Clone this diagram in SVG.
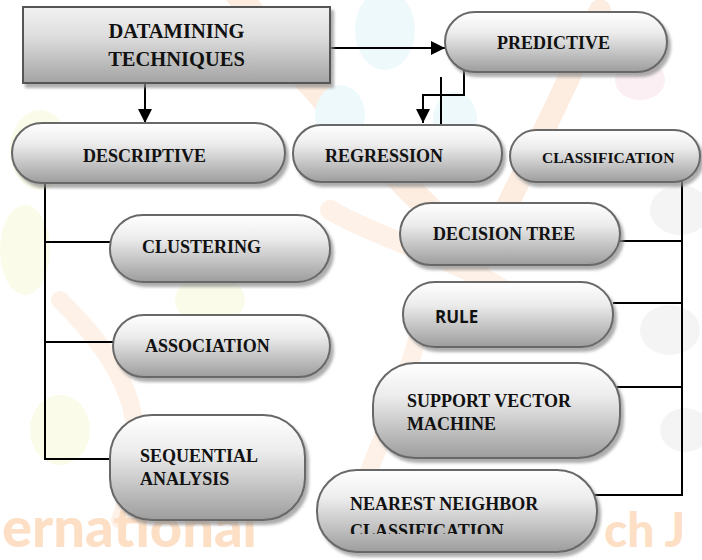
<svg xmlns="http://www.w3.org/2000/svg" width="702" height="560" viewBox="0 0 702 560">
<defs>
<linearGradient id="pill" x1="0" y1="0" x2="0" y2="1">
<stop offset="0" stop-color="#ffffff"/>
<stop offset="0.35" stop-color="#ececec"/>
<stop offset="1" stop-color="#9d9d9d"/>
</linearGradient>
<linearGradient id="boxg" x1="0" y1="0" x2="0" y2="1">
<stop offset="0" stop-color="#f2f2f2"/>
<stop offset="0.4" stop-color="#dcdcdc"/>
<stop offset="1" stop-color="#a3a3a3"/>
</linearGradient>
<filter id="sh" x="-10%" y="-20%" width="125%" height="150%">
<feDropShadow dx="3" dy="4" stdDeviation="1.5" flood-color="#8a8a8a" flood-opacity="0.7"/>
</filter>
<marker id="ah" viewBox="0 0 10 10" refX="10" refY="5" markerWidth="15" markerHeight="14" markerUnits="userSpaceOnUse" orient="auto">
<path d="M0,0 L10,5 L0,10 z" fill="#000"/>
</marker>
<clipPath id="nnclip"><rect x="300" y="460" width="320" height="74"/></clipPath>
<style>
.pill{fill:url(#pill);stroke:#686868;stroke-width:2;filter:url(#sh)}
.box{fill:url(#boxg);stroke:#555;stroke-width:2;filter:url(#sh)}
.t{font-family:"Liberation Serif","Times New Roman",serif;font-weight:bold;font-size:18px;fill:#111}
.big{font-size:20.5px}
.small{font-size:15.5px}
.ts{font-family:"Open Sans","Liberation Sans",sans-serif;font-weight:bold;font-size:17px;fill:#111}
.c{fill:none;stroke:#000;stroke-width:2}
.wm{fill:none;stroke-linecap:round}
.wmt{font-family:Lato,"Open Sans",sans-serif;font-weight:900;font-size:56px;fill:#fddfc5}
</style>
</defs>
<g id="watermark">
<path class="wm" d="M235,-10 C300,80 380,160 470,250" stroke="#fdece0" stroke-width="26"/>
<path class="wm" d="M600,10 C560,100 520,180 480,260" stroke="#fdece0" stroke-width="22"/>
<path class="wm" d="M330,210 C400,250 480,260 560,330" stroke="#fef1e7" stroke-width="20"/>
<path class="wm" d="M60,300 C120,360 160,420 120,520" stroke="#fef1e7" stroke-width="18"/>
<path class="wm" d="M420,330 C400,400 380,440 350,520" stroke="#fef1e7" stroke-width="18"/>
<ellipse cx="385" cy="30" rx="30" ry="40" fill="#edf9fb"/>
<ellipse cx="340" cy="115" rx="25" ry="30" fill="#edf9fb"/>
<ellipse cx="455" cy="120" rx="22" ry="28" fill="#edf9fb"/>
<ellipse cx="40" cy="150" rx="30" ry="40" fill="#fbfbea"/>
<ellipse cx="25" cy="250" rx="25" ry="45" fill="#fbfbea"/>
<ellipse cx="210" cy="300" rx="35" ry="25" fill="#fbfbea"/>
<ellipse cx="60" cy="430" rx="30" ry="35" fill="#fbfbea"/>
<ellipse cx="640" cy="80" rx="25" ry="20" fill="#fbeff3"/>
<ellipse cx="680" cy="210" rx="30" ry="25" fill="#f4f4f4"/>
<ellipse cx="670" cy="330" rx="30" ry="25" fill="#f4f4f4"/>
<ellipse cx="685" cy="430" rx="25" ry="22" fill="#f4f4f4"/>
<text class="wmt" x="2" y="547">ernational</text>
<text class="wmt" x="604" y="547" style="font-size:48px">ch J</text>
</g>
<g id="connectors">
<path class="c" d="M145,83 L145,123" marker-end="url(#ah)"/>
<path class="c" d="M330,48 L445,48" marker-end="url(#ah)"/>
<path class="c" d="M464,67 L464,95 L423,95 L423,123" marker-end="url(#ah)"/>
<path class="c" d="M441,77 L441,138" marker-end="url(#ah)"/>
<path class="c" d="M45,175 L45,459 L110,459 M45,242 L110,242 M45,342 L113,342"/>
<path class="c" d="M682,180 L682,495 L595,495 M620,241 L682,241 M613,303 L682,303 M617,387 L682,387"/>
</g>
<g id="datamining">
<rect class="box" x="23" y="7" width="307" height="76"/>
<text class="t big" x="176.5" y="38" text-anchor="middle">DATAMINING</text>
<text class="t big" x="176.5" y="66" text-anchor="middle">TECHNIQUES</text>
</g>
<g id="predictive">
<rect class="pill" x="445" y="12" width="222" height="60" rx="30"/>
<text class="t" x="497" y="49">PREDICTIVE</text>
</g>
<g id="descriptive">
<rect class="pill" x="12" y="123" width="273" height="60" rx="30"/>
<text class="t" x="83" y="162">DESCRIPTIVE</text>
</g>
<g id="regression">
<rect class="pill" x="293" y="125" width="209" height="57" rx="28"/>
<text class="t" x="325" y="162">REGRESSION</text>
</g>
<g id="classification">
<rect class="pill" x="510" y="130" width="190" height="52" rx="26"/>
<text class="t small" x="542" y="163">CLASSIFICATION</text>
</g>
<g id="clustering">
<rect class="pill" x="110" y="215" width="220" height="67" rx="33"/>
<text class="t" x="142" y="253">CLUSTERING</text>
</g>
<g id="association">
<rect class="pill" x="113" y="315" width="217" height="62" rx="31"/>
<text class="t" x="145" y="352">ASSOCIATION</text>
</g>
<g id="sequential">
<rect class="pill" x="110" y="415" width="195" height="105" rx="42"/>
<text class="t" x="140" y="462">SEQUENTIAL</text>
<text class="t" x="140" y="485">ANALYSIS</text>
</g>
<g id="decisiontree">
<rect class="pill" x="400" y="203" width="220" height="62" rx="31"/>
<text class="t" x="433" y="240">DECISION TREE</text>
</g>
<g id="rule">
<rect class="pill" x="403" y="282" width="210" height="65" rx="32"/>
<text class="ts" x="435" y="323">RULE</text>
</g>
<g id="svm">
<rect class="pill" x="373" y="363" width="247" height="95" rx="42"/>
<text class="t" x="407" y="407">SUPPORT VECTOR</text>
<text class="t" x="407" y="430">MACHINE</text>
</g>
<g id="nearestneighbor">
<rect class="pill" x="317" y="470" width="280" height="82" rx="40"/>
<text class="t" x="350" y="510">NEAREST NEIGHBOR</text>
<text class="t" x="350" y="537" clip-path="url(#nnclip)">CLASSIFICATION</text>
</g>
</svg>
